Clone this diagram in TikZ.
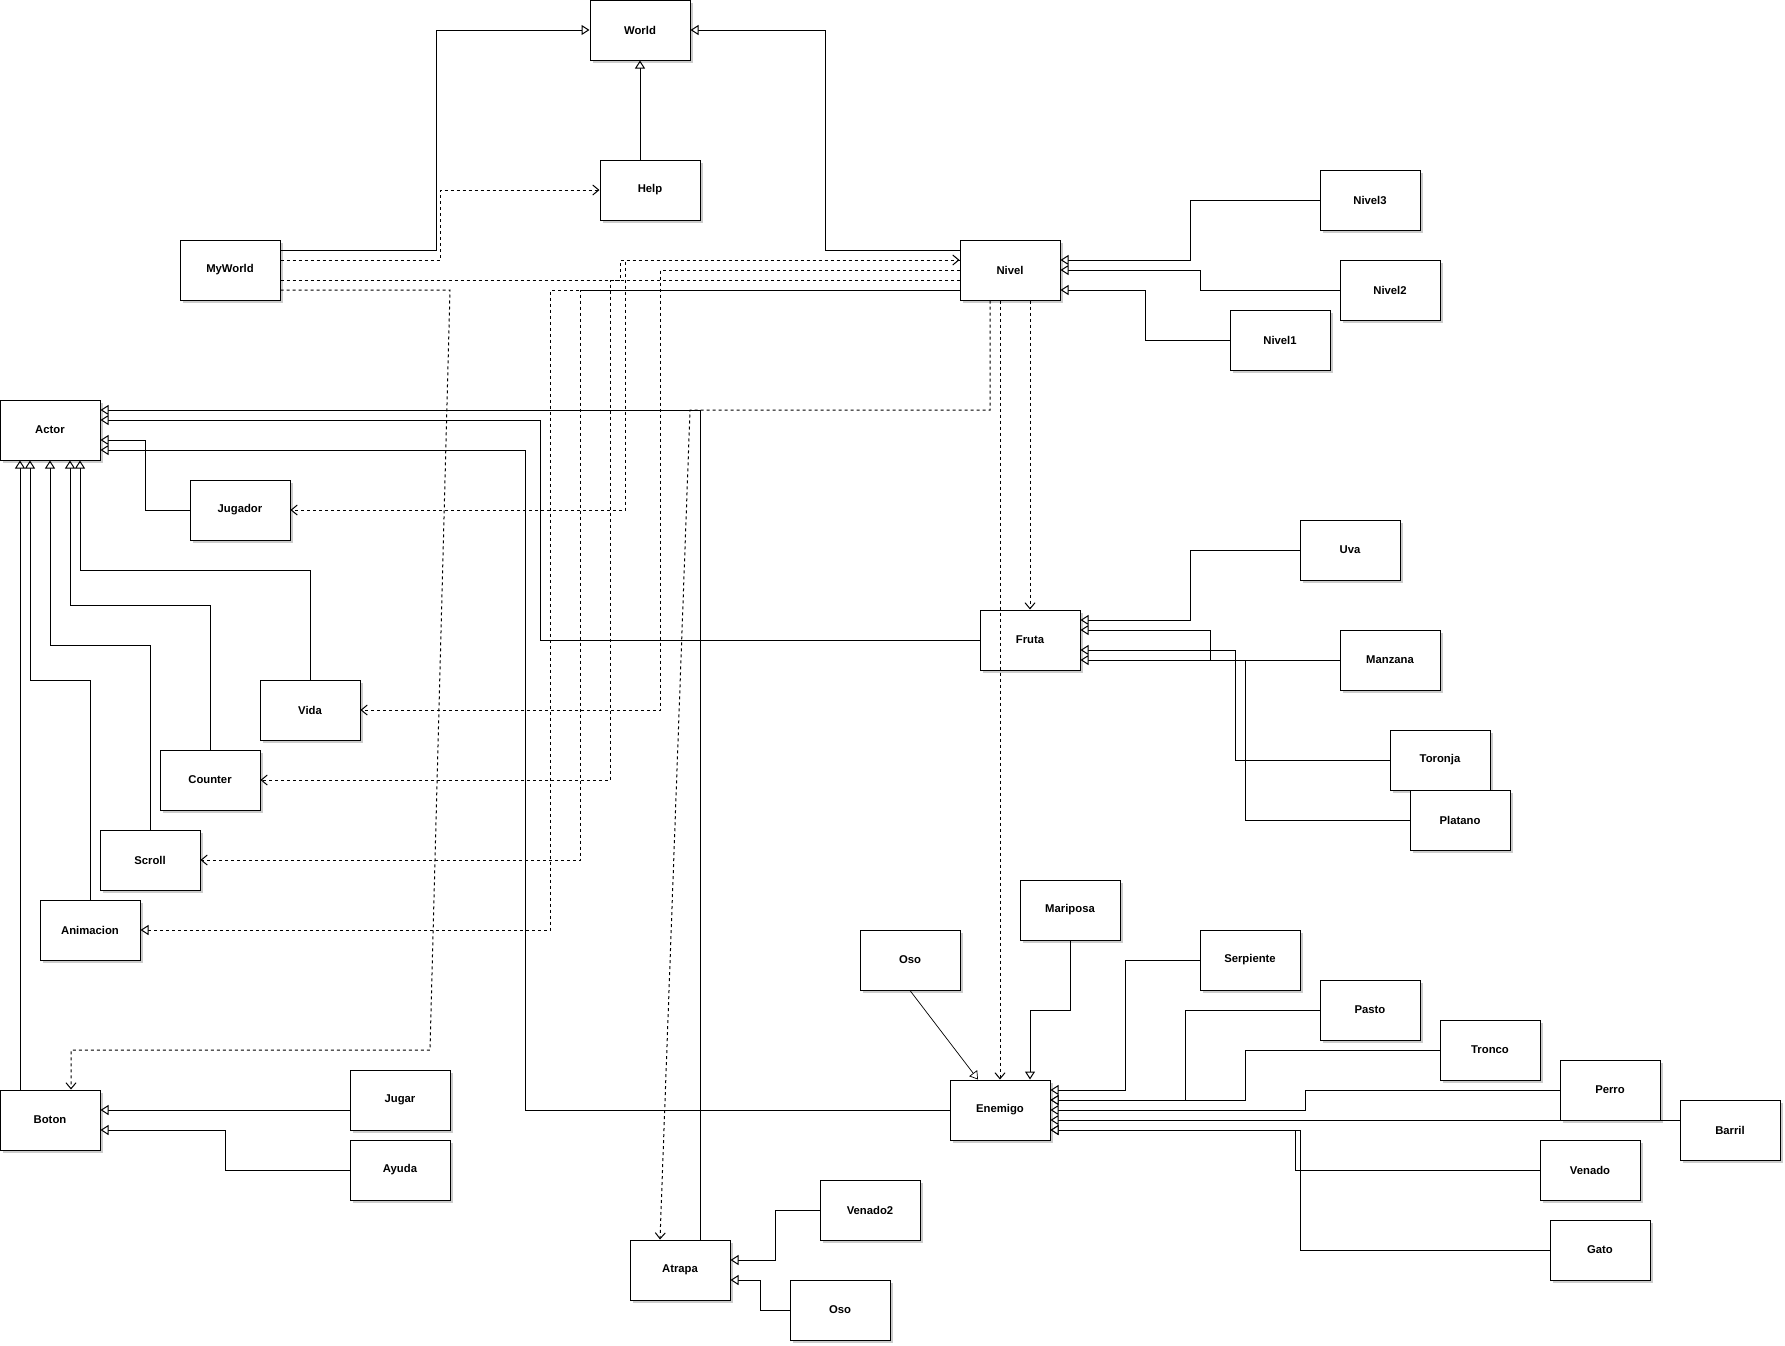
\documentclass[tikz,border=0pt]{standalone}
\usepackage{fontspec}
\setmainfont{Liberation Sans}
\usetikzlibrary{arrows.meta,shadows}
\begin{document}
\begin{tikzpicture}[x=1pt,y=-1pt,
  box/.style={draw, line width=1pt, fill=white, minimum width=100pt, minimum height=60pt,
    inner sep=0pt, font=\fontsize{11.3}{13}\selectfont\bfseries,
    drop shadow={shadow xshift=3pt, shadow yshift=-3pt, fill=black!20, opacity=1}},
  gen/.style={line width=1pt, -{Triangle[fill=white, length=8pt, width=10pt]}},
  dep/.style={line width=1pt, dash pattern=on 3pt off 3pt, -{Straight Barb[length=6pt, width=10pt]}},
  real/.style={line width=1pt, dash pattern=on 3pt off 3pt, -{Triangle[fill=white, length=8pt, width=10pt]}}
]
\useasboundingbox (0,0) rectangle (1785,1345);
% nodes
\node[box] (world) at (640,30) {World};
\node[box] (help) at (650,190) {Help};
\node[box] (myworld) at (230,270) {MyWorld};
\node[box] (nivel) at (1010,270) {Nivel};
\node[box] (nivel3) at (1370,200) {Nivel3};
\node[box] (nivel2) at (1390,290) {Nivel2};
\node[box] (nivel1) at (1280,340) {Nivel1};
\node[box] (actor) at (50,430) {Actor};
\node[box] (jugador) at (240,510) {Jugador};
\node[box] (vida) at (310,710) {Vida};
\node[box] (counter) at (210,780) {Counter};
\node[box] (scroll) at (150,860) {Scroll};
\node[box] (animacion) at (90,930) {Animacion};
\node[box] (boton) at (50,1120) {Boton};
\node[box] (jugar) at (400,1100) {Jugar};
\node[box] (ayuda) at (400,1170) {Ayuda};
\node[box] (fruta) at (1030,640) {Fruta};
\node[box] (uva) at (1350,550) {Uva};
\node[box] (manzana) at (1390,660) {Manzana};
\node[box] (toronja) at (1440,760) {Toronja};
\node[box] (platano) at (1460,820) {Platano};
\node[box] (enemigo) at (1000,1110) {Enemigo};
\node[box] (oso) at (910,960) {Oso};
\node[box] (mariposa) at (1070,910) {Mariposa};
\node[box] (serpiente) at (1250,960) {Serpiente};
\node[box] (pasto) at (1370,1010) {Pasto};
\node[box] (tronco) at (1490,1050) {Tronco};
\node[box] (perro) at (1610,1090) {Perro};
\node[box] (barril) at (1730,1130) {Barril};
\node[box] (venado) at (1590,1170) {Venado};
\node[box] (gato) at (1600,1250) {Gato};
\node[box] (atrapa) at (680,1270) {Atrapa};
\node[box] (venado2) at (870,1210) {Venado2};
\node[box] (oso2) at (840,1310) {Oso};

% World generalizations
\draw[gen] (myworld.east |- 0,250) -- (436,250) -- (436,30) -- (world.west);
\draw[gen] (nivel.west |- 0,250) -- (825,250) -- (825,30) -- (world.east);
\draw[gen] (world.south |- help.north) -- (world.south);

% MyWorld dependencies
\draw[dep] (myworld.east |- 0,260) -- (440,260) -- (440,190) -- (help.west);
\draw[dep] (myworld.east |- 0,280) -- (620,280) -- (620,260) -- (nivel.west |- 0,260);
\draw[dep] (myworld.east |- 0,290) -- (450,290) -- (430,1050) -- (71,1050) -- (boton.north -| 71,0);

% Nivel children
\draw[gen] (nivel3.west) -- (1190,200) -- (1190,260) -- (nivel.east |- 0,260);
\draw[gen] (nivel2.west) -- (1200,290) -- (1200,270) -- (nivel.east |- 0,270);
\draw[gen] (nivel1.west) -- (1145,340) -- (1145,290) -- (nivel.east |- 0,290);

% Nivel dependencies
\draw[dep] (nivel.west |- 0,260) -- (625,260) -- (625,510) -- (jugador.east);
\draw[dep] (nivel.west) -- (660,270) -- (660,710) -- (vida.east);
\draw[dep] (nivel.west |- 0,280) -- (610,280) -- (610,780) -- (counter.east);
\draw[dep] (nivel.west |- 0,290) -- (580,290) -- (580,860) -- (scroll.east);
\draw[real, dash phase=3pt] (nivel.west |- 0,290) -- (550,290) -- (550,930) -- (animacion.east);
\draw[dep] (fruta.north |- nivel.south) -- (fruta.north);
\draw[dep] (enemigo.north |- nivel.south) -- (enemigo.north);
\draw[dep] (nivel.south -| 990,0) -- (990,410) -- (690,410) -- (atrapa.north -| 660,0);

% Actor generalizations
\draw[gen] (atrapa.north -| 700,0) -- (700,410) -- (actor.east |- 0,410);
\draw[gen] (fruta.west) -- (540,640) -- (540,420) -- (actor.east |- 0,420);
\draw[gen] (jugador.west) -- (145,510) -- (145,440) -- (actor.east |- 0,440);
\draw[gen] (enemigo.west) -- (525,1110) -- (525,450) -- (actor.east |- 0,450);
\draw[gen] (boton.north -| 20,0) -- (actor.south -| 20,0);
\draw[gen] (animacion.north) -- (90,680) -- (30,680) -- (actor.south -| 30,0);
\draw[gen] (scroll.north) -- (150,645) -- (50,645) -- (actor.south);
\draw[gen] (counter.north) -- (210,605) -- (70,605) -- (actor.south -| 70,0);
\draw[gen] (vida.north) -- (310,570) -- (80,570) -- (actor.south -| 80,0);

% Boton children
\draw[gen] (jugar.west |- 0,1110) -- (boton.east |- 0,1110);
\draw[gen] (ayuda.west) -- (225,1170) -- (225,1130) -- (boton.east |- 0,1130);

% Atrapa children
\draw[gen] (venado2.west) -- (775,1210) -- (775,1260) -- (atrapa.east |- 0,1260);
\draw[gen] (oso2.west) -- (760,1310) -- (760,1280) -- (atrapa.east |- 0,1280);

% Fruta children
\draw[gen] (uva.west) -- (1190,550) -- (1190,620) -- (fruta.east |- 0,620);
\draw[gen] (manzana.west) -- (1210,660) -- (1210,630) -- (fruta.east |- 0,630);
\draw[gen] (toronja.west) -- (1235,760) -- (1235,650) -- (fruta.east |- 0,650);
\draw[gen] (platano.west) -- (1245,820) -- (1245,660) -- (fruta.east |- 0,660);

% Enemigo children
\draw[gen, line width=0.7pt] (oso.south) -- (enemigo.north -| 978,0);
\draw[gen] (mariposa.south) -- (1070,1010) -- (1030,1010) -- (enemigo.north -| 1030,0);
\draw[gen] (serpiente.west) -- (1125,960) -- (1125,1090) -- (enemigo.east |- 0,1090);
\draw[gen] (pasto.west) -- (1185,1010) -- (1185,1100) -- (enemigo.east |- 0,1100);
\draw[gen] (tronco.west) -- (1245,1050) -- (1245,1100) -- (enemigo.east |- 0,1100);
\draw[gen] (perro.west) -- (1305,1090) -- (1305,1110) -- (enemigo.east |- 0,1110);
\draw[gen] (barril.west |- 0,1120) -- (enemigo.east |- 0,1120);
\draw[gen] (venado.west) -- (1295,1170) -- (1295,1130) -- (enemigo.east |- 0,1130);
\draw[gen] (gato.west) -- (1300,1250) -- (1300,1130) -- (enemigo.east |- 0,1130);
\end{tikzpicture}
\end{document}
